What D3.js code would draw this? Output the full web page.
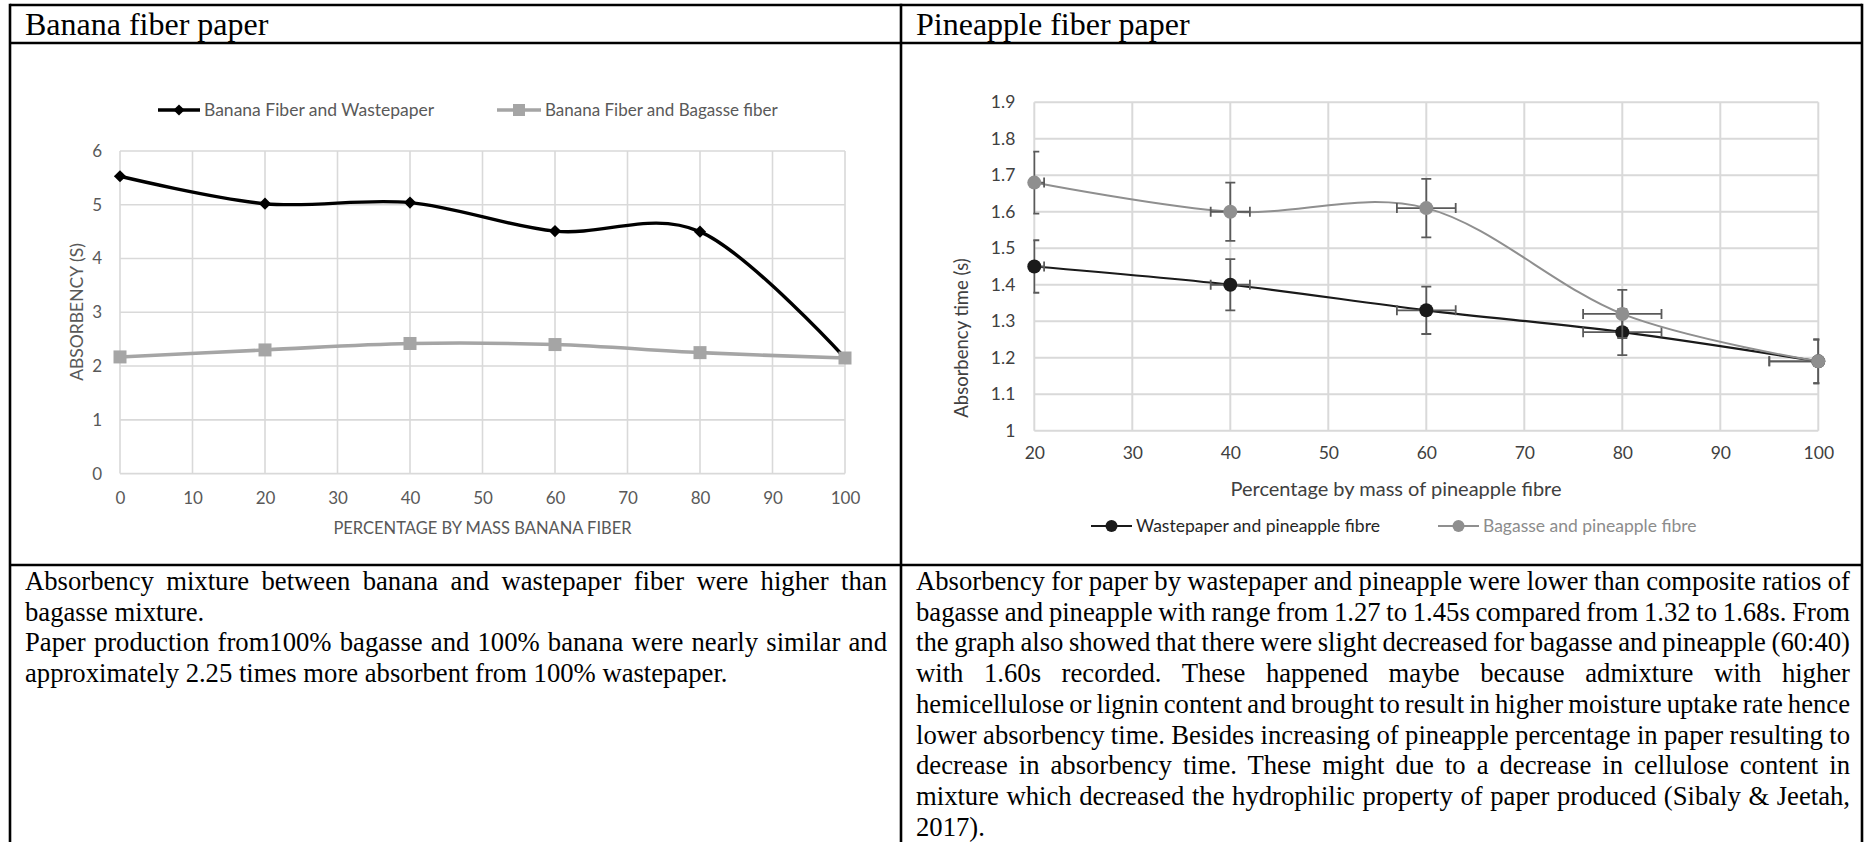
<!DOCTYPE html>
<html><head><meta charset="utf-8">
<script src="https://cdn.jsdelivr.net/npm/d3@7/dist/d3.min.js"></script>
<style>html,body{margin:0;padding:0;background:#fff}svg{display:block}</style>
</head><body>
<svg id="c" width="1865" height="842"></svg>
<script>
// ---------- DATA ----------
const panelTitles = ["Banana fiber paper", "Pineapple fiber paper"];

// Left chart: banana fiber
const bananaX = [0, 20, 40, 60, 80, 100];
const bananaWaste = [5.53, 5.02, 5.04, 4.51, 4.50, 2.15];
const bananaBagasse = [2.17, 2.30, 2.42, 2.40, 2.25, 2.15];
const bananaSeries = ["Banana Fiber and Wastepaper", "Banana Fiber and Bagasse fiber"];
const bananaXTicks = [0, 10, 20, 30, 40, 50, 60, 70, 80, 90, 100];
const bananaYTicks = [0, 1, 2, 3, 4, 5, 6];
const bananaXTitle = "PERCENTAGE BY MASS BANANA FIBER";
const bananaYTitle = "ABSORBENCY (S)";

// Right chart: pineapple fibre
const pineX = [20, 40, 60, 80, 100];
const pineWaste = [1.45, 1.40, 1.33, 1.27, 1.19];
const pineBagasse = [1.68, 1.60, 1.61, 1.32, 1.19];
const pineWasteErrY = [0.072, 0.070, 0.065, 0.063, 0.060];
const pineBagasseErrY = [0.085, 0.080, 0.080, 0.066, 0.060];
const pineErrX = [1, 2, 3, 4, 5];
const pineSeries = ["Wastepaper and pineapple fibre", "Bagasse and pineapple fibre"];
const pineXTicks = [20, 30, 40, 50, 60, 70, 80, 90, 100];
const pineYTicks = [1, 1.1, 1.2, 1.3, 1.4, 1.5, 1.6, 1.7, 1.8, 1.9];
const pineYLabels = ["1", "1.1", "1.2", "1.3", "1.4", "1.5", "1.6", "1.7", "1.8", "1.9"];
const pineXTitle = "Percentage by mass of pineapple fibre";
const pineYTitle = "Absorbency time (s)";

// Description text (one entry per rendered line; j = justified)
const leftText = [
  {t: "Absorbency mixture between banana and wastepaper fiber were higher than", j: true},
  {t: "bagasse mixture.", j: false},
  {t: "Paper production from100% bagasse and 100% banana were nearly similar and", j: true},
  {t: "approximately 2.25 times more absorbent from 100% wastepaper.", j: false}
];
const rightText = [
  {t: "Absorbency for paper by wastepaper and pineapple were lower than composite ratios of", j: true},
  {t: "bagasse and pineapple with range from 1.27 to 1.45s compared from 1.32 to 1.68s. From", j: true},
  {t: "the graph also showed that there were slight decreased for bagasse and pineapple (60:40)", j: true},
  {t: "with 1.60s recorded. These happened maybe because admixture with higher", j: true},
  {t: "hemicellulose or lignin content and brought to result in higher moisture uptake rate hence", j: true},
  {t: "lower absorbency time. Besides increasing of pineapple percentage in paper resulting to", j: true},
  {t: "decrease in absorbency time. These might due to a decrease in cellulose content in", j: true},
  {t: "mixture which decreased the hydrophilic property of paper produced (Sibaly & Jeetah,", j: true},
  {t: "2017).", j: false}
];

// ---------- RENDER ----------
const svg = d3.select("#c");
const SERIF = '"Liberation Serif", "Times New Roman", serif';
const SANS = 'Lato, "Open Sans", sans-serif';

// Table
const tbl = svg.append("g").attr("stroke", "#000").attr("stroke-width", 2.6);
const xL = 10, xM = 901, xR = 1862, yT = 5, yH = 43, yRow = 565, yB = 842;
tbl.append("line").attr("x1", xL).attr("x2", xR).attr("y1", yT).attr("y2", yT);
tbl.append("line").attr("x1", xL).attr("x2", xR).attr("y1", yH).attr("y2", yH);
tbl.append("line").attr("x1", xL).attr("x2", xR).attr("y1", yRow).attr("y2", yRow);
[xL, xM, xR].forEach(x => tbl.append("line").attr("x1", x).attr("x2", x).attr("y1", yT - 1.3).attr("y2", yB));

svg.append("text").attr("x", 25).attr("y", 35).attr("font-family", SERIF).attr("font-size", 32).text(panelTitles[0]);
svg.append("text").attr("x", 916).attr("y", 35).attr("font-family", SERIF).attr("font-size", 32).text(panelTitles[1]);

function para(lines, x0, x1, y0, lh) {
  lines.forEach((ln, i) => {
    const t = svg.append("text").attr("x", x0).attr("y", y0 + i * lh)
      .attr("font-family", SERIF).attr("font-size", 26.67).attr("fill", "#000")
      .attr("xml:space", "preserve").text(ln.t);
    if (ln.j) {
      const nat = t.node().getComputedTextLength();
      const nsp = (ln.t.match(/ /g) || []).length;
      const extra = (x1 - x0 - nat) / nsp;
      t.attr("word-spacing", extra);
    }
  });
}
para(leftText, 25, 887, 590, 30.72);
para(rightText, 916, 1850, 590, 30.72);

// ---------- LEFT CHART ----------
{
  const x = d3.scaleLinear().domain([0, 100]).range([120, 845]);
  const y = d3.scaleLinear().domain([0, 6]).range([473.6, 151]);
  const g = svg.append("g");
  const grid = g.append("g").attr("stroke", "#d9d9d9").attr("stroke-width", 1.6);
  bananaXTicks.forEach(v => grid.append("line").attr("x1", x(v)).attr("x2", x(v)).attr("y1", y(0)).attr("y2", y(6)));
  bananaYTicks.forEach(v => grid.append("line").attr("x1", x(0)).attr("x2", x(100)).attr("y1", y(v)).attr("y2", y(v)));

  const ax = g.append("g").attr("transform", `translate(0,${y(0)})`)
    .call(d3.axisBottom(x).tickValues(bananaXTicks).tickSize(0).tickPadding(18).tickFormat(d3.format("d")));
  const ay = g.append("g").attr("transform", `translate(${x(0)},0)`)
    .call(d3.axisLeft(y).tickValues(bananaYTicks).tickSize(0).tickPadding(18).tickFormat(d3.format("d")));
  [ax, ay].forEach(a => {
    a.select(".domain").remove();
    a.selectAll("text").attr("font-family", SANS).attr("font-size", 17).attr("fill", "#595959");
  });

  g.append("text").attr("x", (x(0) + x(100)) / 2).attr("y", 534).attr("text-anchor", "middle")
    .attr("font-family", SANS).attr("font-size", 16.5).attr("fill", "#595959").text(bananaXTitle);
  g.append("text").attr("transform", `translate(83,312) rotate(-90)`).attr("text-anchor", "middle")
    .attr("font-family", SANS).attr("font-size", 17.5).attr("fill", "#595959").text(bananaYTitle);

  const line = d3.line().x(d => x(d[0])).y(d => y(d[1])).curve(d3.curveCatmullRom.alpha(0));
  const s1 = bananaX.map((v, i) => [v, bananaWaste[i]]);
  const s2 = bananaX.map((v, i) => [v, bananaBagasse[i]]);
  g.append("path").attr("d", line(s1)).attr("fill", "none").attr("stroke", "#000").attr("stroke-width", 3.4);
  const diamond = d3.symbol().type(d3.symbolDiamond2).size(95);
  g.selectAll(".dm").data(s1).join("path").attr("d", diamond).attr("fill", "#000")
    .attr("transform", d => `translate(${x(d[0])},${y(d[1])})`);
  g.append("path").attr("d", line(s2)).attr("fill", "none").attr("stroke", "#a5a5a5").attr("stroke-width", 3.6);
  g.selectAll(".sq").data(s2).join("rect").attr("fill", "#a5a5a5")
    .attr("x", d => x(d[0]) - 6.5).attr("y", d => y(d[1]) - 6.5).attr("width", 13).attr("height", 13);

  // legend
  const lg = g.append("g");
  lg.append("line").attr("x1", 158).attr("x2", 200).attr("y1", 110).attr("y2", 110).attr("stroke", "#000").attr("stroke-width", 3.4);
  lg.append("path").attr("d", d3.symbol().type(d3.symbolDiamond2).size(80)).attr("transform", "translate(179,110)").attr("fill", "#000");
  lg.append("text").attr("x", 204).attr("y", 116).attr("font-family", SANS).attr("font-size", 17.5).attr("fill", "#595959").text(bananaSeries[0]);
  lg.append("line").attr("x1", 497).attr("x2", 541).attr("y1", 110).attr("y2", 110).attr("stroke", "#a5a5a5").attr("stroke-width", 3.6);
  lg.append("rect").attr("x", 513).attr("y", 104).attr("width", 12).attr("height", 12).attr("fill", "#a5a5a5");
  lg.append("text").attr("x", 545).attr("y", 116).attr("font-family", SANS).attr("font-size", 17).attr("fill", "#595959").text(bananaSeries[1]);
}

// ---------- RIGHT CHART ----------
{
  const x = d3.scaleLinear().domain([20, 100]).range([1034.3, 1818.3]);
  const y = d3.scaleLinear().domain([1, 1.9]).range([430.7, 102.3]);
  const g = svg.append("g");
  const grid = g.append("g").attr("stroke", "#d9d9d9").attr("stroke-width", 2);
  pineXTicks.forEach(v => grid.append("line").attr("x1", x(v)).attr("x2", x(v)).attr("y1", y(1)).attr("y2", y(1.9)));
  pineYTicks.forEach(v => grid.append("line").attr("x1", x(20)).attr("x2", x(100)).attr("y1", y(v)).attr("y2", y(v)));

  const ax = g.append("g").attr("transform", `translate(0,${y(1)})`)
    .call(d3.axisBottom(x).tickValues(pineXTicks).tickSize(0).tickPadding(16).tickFormat(d3.format("d")));
  const ay = g.append("g").attr("transform", `translate(${x(20)},0)`)
    .call(d3.axisLeft(y).tickValues(pineYTicks).tickSize(0).tickPadding(19).tickFormat((d, i) => pineYLabels[i]));
  [ax, ay].forEach(a => {
    a.select(".domain").remove();
    a.selectAll("text").attr("font-family", SANS).attr("font-size", 17.5).attr("fill", "#404040");
  });

  g.append("text").attr("x", 1396).attr("y", 496).attr("text-anchor", "middle")
    .attr("font-family", SANS).attr("font-size", 20).attr("fill", "#404040").text(pineXTitle);
  g.append("text").attr("transform", `translate(968,338) rotate(-90)`).attr("text-anchor", "middle")
    .attr("font-family", SANS).attr("font-size", 18.5).attr("fill", "#404040").text(pineYTitle);

  svg.append("clipPath").attr("id", "pclip").append("rect")
    .attr("x", x(20) - 1).attr("y", y(1.9) - 20).attr("width", x(100) - x(20) + 2).attr("height", y(1) - y(1.9) + 40);

  const line = d3.line().x(d => x(d[0])).y(d => y(d[1])).curve(d3.curveCatmullRom.alpha(0));
  const series = [
    {vals: pineWaste, err: pineWasteErrY, line: "#1a1a1a", lw: 2.2, mk: "#1a1a1a"},
    {vals: pineBagasse, err: pineBagasseErrY, line: "#8f8f8f", lw: 2, mk: "#8f8f8f"}
  ];
  const cap = 5;
  series.forEach(s => {
    const pts = pineX.map((v, i) => ({x: v, y: s.vals[i], ey: s.err[i], ex: pineErrX[i]}));
    g.append("path").attr("d", line(pts.map(p => [p.x, p.y]))).attr("fill", "none").attr("stroke", s.line).attr("stroke-width", s.lw);
    const eb = g.append("g").attr("clip-path", "url(#pclip)").attr("stroke", "#5a5a5a").attr("stroke-width", 1.8);
    pts.forEach(p => {
      const cx = x(p.x), cy = y(p.y);
      const yt = y(p.y + p.ey), yb = y(p.y - p.ey);
      eb.append("line").attr("x1", cx).attr("x2", cx).attr("y1", yt).attr("y2", yb);
      eb.append("line").attr("x1", cx - cap).attr("x2", cx + cap).attr("y1", yt).attr("y2", yt);
      eb.append("line").attr("x1", cx - cap).attr("x2", cx + cap).attr("y1", yb).attr("y2", yb);
      const xl = x(p.x - p.ex), xr = x(p.x + p.ex);
      eb.append("line").attr("x1", xl).attr("x2", xr).attr("y1", cy).attr("y2", cy);
      eb.append("line").attr("x1", xl).attr("x2", xl).attr("y1", cy - cap).attr("y2", cy + cap);
      eb.append("line").attr("x1", xr).attr("x2", xr).attr("y1", cy - cap).attr("y2", cy + cap);
    });
    g.selectAll(null).data(pts).join("circle").attr("cx", p => x(p.x)).attr("cy", p => y(p.y)).attr("r", 7).attr("fill", s.mk);
  });

  // legend
  const lg = g.append("g");
  lg.append("line").attr("x1", 1091).attr("x2", 1132).attr("y1", 526).attr("y2", 526).attr("stroke", "#1a1a1a").attr("stroke-width", 2.2);
  lg.append("circle").attr("cx", 1111.5).attr("cy", 526).attr("r", 6).attr("fill", "#1a1a1a");
  lg.append("text").attr("x", 1136).attr("y", 532).attr("font-family", SANS).attr("font-size", 17.5).attr("fill", "#262626").text(pineSeries[0]);
  lg.append("line").attr("x1", 1438).attr("x2", 1479).attr("y1", 526).attr("y2", 526).attr("stroke", "#8f8f8f").attr("stroke-width", 2);
  lg.append("circle").attr("cx", 1458.5).attr("cy", 526).attr("r", 6).attr("fill", "#8f8f8f");
  lg.append("text").attr("x", 1483).attr("y", 532).attr("font-family", SANS).attr("font-size", 17.5).attr("fill", "#8c8c8c").text(pineSeries[1]);
}
</script>
</body></html>
